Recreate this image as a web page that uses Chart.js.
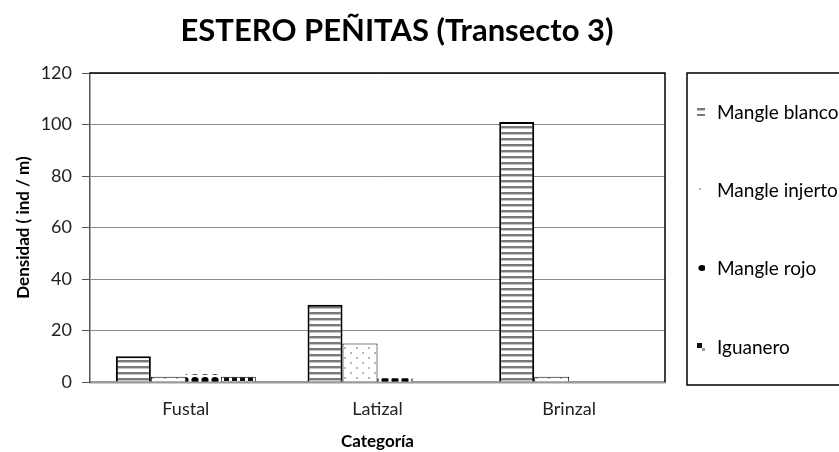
<!DOCTYPE html>
<html>
<head>
<meta charset="utf-8">
<script src="https://cdn.jsdelivr.net/npm/chart.js@4.4.1/dist/chart.umd.min.js"></script>
<style>
  html, body { margin: 0; padding: 0; background: #ffffff; }
  #wrap { width: 839px; height: 452px; position: relative; }
</style>
</head>
<body>
<div id="wrap"><canvas id="densityChart"></canvas></div>
<script>
const chartTitle = "ESTERO PEÑITAS (Transecto 3)";
const categories = ["Fustal", "Latizal", "Brinzal"];
const seriesNames = ["Mangle blanco", "Mangle injerto", "Mangle rojo", "Iguanero"];
const mangleBlanco = [10, 30, 101];
const mangleInjerto = [2, 15, 2];
const mangleRojo = [3, 1.5, 0];
const iguanero = [2, 0, 0];
const yTicks = [0, 20, 40, 60, 80, 100, 120];

// small tiles used as fill patterns (like the Excel pattern fills)
function makePattern(w, h, draw) {
    const c = document.createElement("canvas");
    c.width = w;
    c.height = h;
    const g = c.getContext("2d");
    g.fillStyle = "#ffffff";
    g.fillRect(0, 0, w, h);
    draw(g);
    return document.getElementById("densityChart").getContext("2d").createPattern(c, "repeat");
}

const stripes = makePattern(4, 6, g => {
    g.fillStyle = "#7a7a7a";
    g.fillRect(0, 0, 4, 2);
    g.fillStyle = "#c4c4c4";
    g.fillRect(0, 2, 4, 1);
});
const lightDots = makePattern(12, 10, g => {
    g.fillStyle = "#b5b5b5";
    g.fillRect(2, 2, 2, 2);
    g.fillRect(8, 7, 2, 2);
});
const blackDots = makePattern(10, 8, g => {
    g.fillStyle = "#000000";
    g.beginPath();
    g.ellipse(5, 4, 3.6, 3, 0, 0, Math.PI * 2);
    g.fill();
});
const checks = makePattern(8, 8, g => {
    g.fillStyle = "#111111";
    g.fillRect(0, 0, 5, 5);
    g.fillStyle = "#9a9a9a";
    g.fillRect(5, 5, 3, 3);
});

const fills = [stripes, lightDots, blackDots, checks];
const values = [mangleBlanco, mangleInjerto, mangleRojo, iguanero];
const borderWidths = [2, 1, 0, 1];

// title, legend box and top/right plot frame
const frameAndLegend = {
    id: "frameAndLegend",
    afterDraw(chart) {
        const ctx = chart.ctx;
        const area = chart.chartArea;
        ctx.save();

        ctx.fillStyle = "#000000";
        ctx.font = "bold 31px Lato";
        ctx.textAlign = "center";
        ctx.textBaseline = "middle";
        ctx.fillText(chartTitle, 397, 31);

        ctx.strokeStyle = "#000000";
        ctx.lineWidth = 1.5;
        ctx.beginPath();
        ctx.moveTo(area.left, area.top);
        ctx.lineTo(area.right, area.top);
        ctx.lineTo(area.right, area.bottom);
        ctx.stroke();

        // legend box, cut at the right edge
        ctx.lineWidth = 1.5;
        ctx.strokeRect(687, 73, 200, 312);
        const itemY = [112, 190, 268, 347];
        ctx.font = "19px Lato";
        ctx.textAlign = "left";
        chart.data.datasets.forEach((ds, i) => {
            ctx.save();
            ctx.translate(697, itemY[i] - 4);
            ctx.fillStyle = ds.backgroundColor;
            ctx.fillRect(0, 0, 8, 8);
            ctx.restore();
            ctx.fillStyle = "#000000";
            ctx.fillText(ds.label, 717, itemY[i] + 1);
        });
        ctx.restore();
    }
};

new Chart(document.getElementById("densityChart"), {
    type: "bar",
    data: {
        labels: categories,
        datasets: seriesNames.map((name, i) => ({
            label: name,
            data: values[i],
            backgroundColor: fills[i],
            borderColor: "#000000",
            borderWidth: borderWidths[i],
            borderSkipped: "bottom",
            barPercentage: 1,
            categoryPercentage: 0.73,
        })),
    },
    options: {
        responsive: true,
        maintainAspectRatio: false,
        animation: false,
        layout: { padding: { top: 73, right: 174, bottom: 0, left: 0 } },
        plugins: {
            legend: { display: false },
            title: { display: false },
            tooltip: { enabled: false },
        },
        scales: {
            x: {
                grid: { display: false, drawTicks: false },
                border: { display: true, color: "#9a9a9a", width: 2.5 },
                ticks: { color: "#222222", font: { family: "Lato", size: 18 }, padding: 16 },
                title: {
                    display: true,
                    text: "Categoría",
                    color: "#000000",
                    font: { family: "Lato", size: 17, weight: "bold" },
                    padding: { top: 5, bottom: 0 },
                },
                afterFit(scale) { scale.height = 70; },
            },
            y: {
                min: 0,
                max: 120,
                afterBuildTicks(scale) { scale.ticks = yTicks.map(v => ({ value: v })); },
                grid: { color: "#8a8a8a", lineWidth: 1, tickLength: 8, tickColor: "#555555" },
                border: { display: true, color: "#555555", width: 1.5 },
                ticks: { color: "#222222", font: { family: "Lato", size: 18 }, padding: 10 },
                title: {
                    display: true,
                    text: "Densidad ( ind / m)",
                    color: "#000000",
                    font: { family: "Lato", size: 17, weight: "bold" },
                    padding: { top: 13, bottom: 0 },
                },
                afterFit(scale) { scale.width = 90; },
            },
        },
    },
    plugins: [frameAndLegend],
});
</script>
</body>
</html>
